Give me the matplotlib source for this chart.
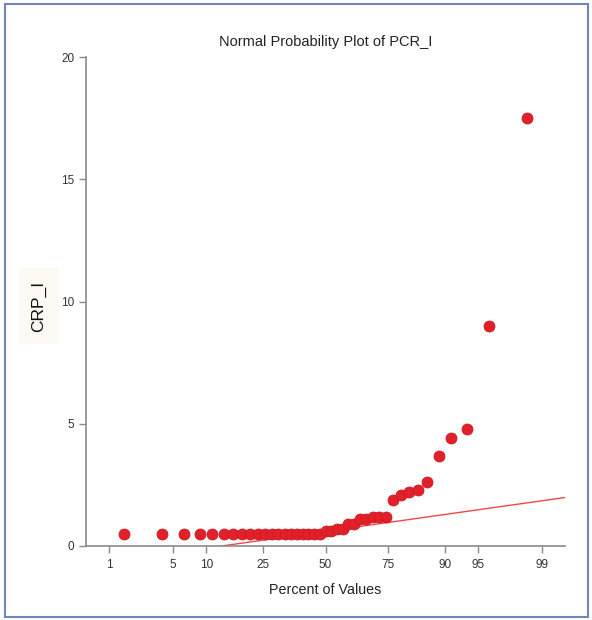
import numpy as np
import matplotlib.pyplot as plt
from matplotlib.patches import Rectangle
from statistics import NormalDist

plt.rcParams['font.family'] = ['Liberation Sans', 'DejaVu Sans']

crp = [0.5] * 20 + [0.6, 0.6, 0.7, 0.7, 0.9, 0.9, 1.1, 1.1, 1.2, 1.2, 1.2,
                    1.9, 2.1, 2.2, 2.3, 2.6, 3.7, 4.4, 4.8, 9.0, 17.5]
pct_ticks = [1, 5, 10, 25, 50, 75, 90, 95, 99]
y_ticks = [0, 5, 10, 15, 20]
# reference line: value = intercept + slope * z
line_intercept = 0.6
line_slope = 0.537

nd = NormalDist()
n = len(crp)
ranks = np.arange(1, n + 1)
z = [nd.inv_cdf(p) for p in (ranks - 0.375) / (n + 0.25)]
tick_z = [nd.inv_cdf(p / 100) for p in pct_ticks]
z_lo, z_hi = nd.inv_cdf(0.005), nd.inv_cdf(0.995)

fig = plt.figure(figsize=(5.92, 6.2), dpi=100)
ax = fig.add_axes([86 / 592, 74 / 620, 479 / 592, 489 / 620])

zz = np.array([z_lo, z_hi])
ax.plot(zz, line_intercept + line_slope * zz, color="#f04848", lw=1, zorder=2)
ax.scatter(z, crp, s=62, color="#e3202a", edgecolor="#c81b22", lw=0.6, zorder=3)

ax.set_xlim(z_lo, z_hi)
ax.set_ylim(0, 20)
ax.set_xticks(tick_z)
ax.set_xticklabels([str(p) for p in pct_ticks])
ax.set_yticks(y_ticks)

for s in ["top", "right"]:
    ax.spines[s].set_visible(False)
for s in ["left", "bottom"]:
    ax.spines[s].set_color("#8a8a8a")
    ax.spines[s].set_linewidth(1.2)
ax.tick_params(colors="#8a8a8a", labelcolor="#333333", labelsize=8.5, length=5, width=1)
ax.tick_params(axis="x", pad=4)

ax.set_title("Normal Probability Plot of PCR_I", fontsize=10.5, color="#222222", pad=8)
ax.set_xlabel("Percent of Values", fontsize=10.3, color="#222222", labelpad=9)
ax.set_ylabel("CRP_I", fontsize=12.5, color="#111111",
              bbox=dict(facecolor="#fcfaf2", edgecolor="none", pad=9))
ax.yaxis.set_label_coords(-0.083, 0.49)

fig.patches.append(Rectangle((5 / 592, 3 / 620), 583 / 592, 613 / 620,
                             transform=fig.transFigure, fill=False,
                             edgecolor="#7185bd", lw=1.5))

fig.savefig("out.png", dpi=100)
